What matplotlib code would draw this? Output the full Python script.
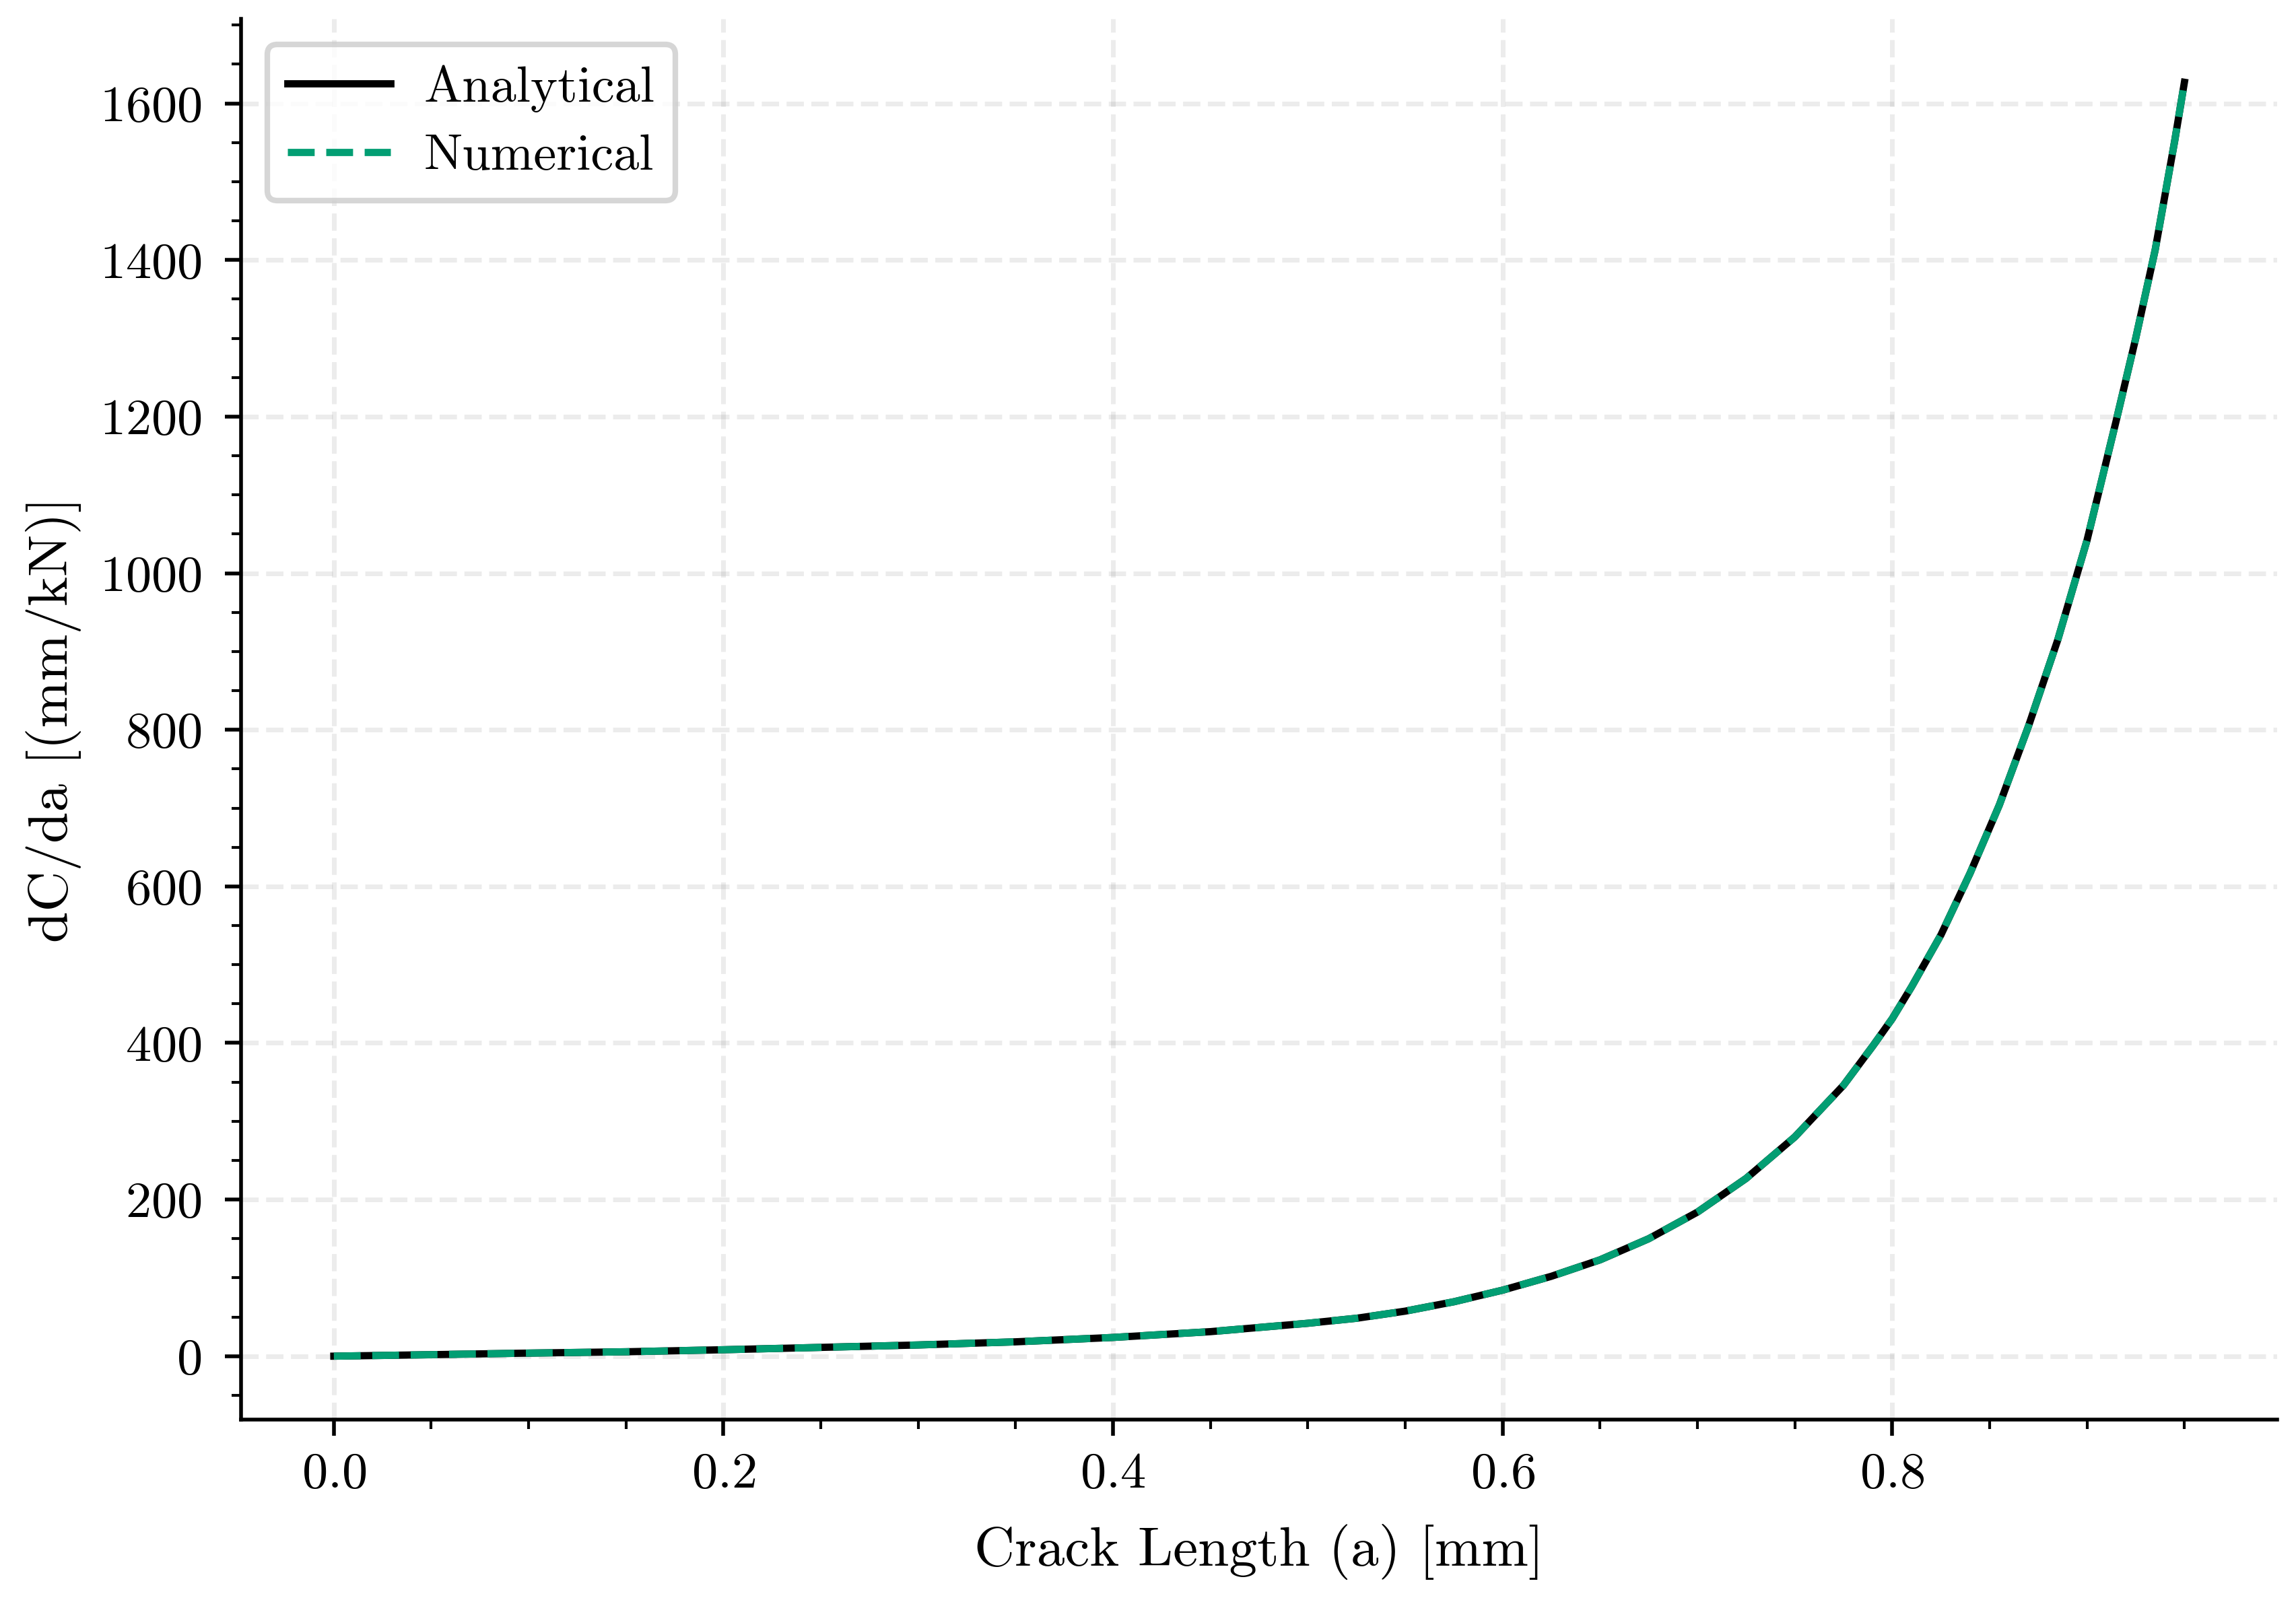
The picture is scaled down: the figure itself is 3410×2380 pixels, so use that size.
import matplotlib
matplotlib.use("Agg")
import matplotlib.pyplot as plt
from matplotlib.ticker import MultipleLocator

# ---- data ----
crack_length = [0.00, 0.05, 0.10, 0.15, 0.20, 0.25, 0.30, 0.35, 0.40, 0.45,
                0.50, 0.525, 0.55, 0.575, 0.60, 0.625, 0.65, 0.675, 0.70,
                0.725, 0.75, 0.775, 0.79, 0.80, 0.81, 0.825, 0.84, 0.855,
                0.87, 0.885, 0.90, 0.915, 0.925, 0.935, 0.945, 0.95]
dCda_analytical = [0.0, 1.9, 3.9, 5.6, 8.2, 11.2, 14.3, 18.3, 23.9, 31.3,
                   42.0, 48.4, 57.5, 69.5, 84.3, 102.0, 123.0, 150.0, 184.0,
                   227.0, 280.0, 346.0, 396.0, 431.0, 472.0, 538.0, 617.0, 704.0,
                   805.0, 915.0, 1042.0, 1195.0, 1300.0, 1413.0, 1552.0, 1627.0]
dCda_numerical = list(dCda_analytical)

series_labels = ["Analytical", "Numerical"]
x_label = "Crack Length (a) [mm]"
y_label = "dC/da [(mm/kN)]"

plt.rcParams["font.family"] = ["serif"]
plt.rcParams["font.serif"] = ["cmr10", "DejaVu Serif"]
plt.rcParams["mathtext.fontset"] = "cm"
plt.rcParams["axes.formatter.use_mathtext"] = True

fig = plt.figure(figsize=(6.82, 4.76), dpi=500)
ax = fig.add_subplot(111)
fig.subplots_adjust(left=0.1051, right=0.9917, bottom=0.1137, top=0.9884)

ax.plot(crack_length, dCda_analytical, color="black", lw=1.55, ls="-",
        label=series_labels[0])
ax.plot(crack_length, dCda_numerical, color="#029E73", lw=1.55, ls="--",
        label=series_labels[1])

ax.xaxis.set_major_locator(MultipleLocator(0.2))
ax.xaxis.set_minor_locator(MultipleLocator(0.05))
ax.yaxis.set_major_locator(MultipleLocator(200))
ax.yaxis.set_minor_locator(MultipleLocator(50))

ax.grid(True, which="major", ls="--", lw=1.0, color="gray", alpha=0.15)
ax.set_axisbelow(True)

for s in ["top", "right"]:
    ax.spines[s].set_visible(False)

ax.tick_params(axis="both", which="major", labelsize=11)
ax.tick_params(axis="y", which="major", pad=5.0)
ax.set_xlabel(x_label, fontsize=12, labelpad=5.5)
ax.set_ylabel(y_label, fontsize=12, labelpad=3.8)

leg = ax.legend(loc="upper left", fontsize=11, fancybox=True,
                handletextpad=0.65, labelspacing=0.42)
leg.get_frame().set_linewidth(1.2)

fig.savefig("out.png", dpi=500)
